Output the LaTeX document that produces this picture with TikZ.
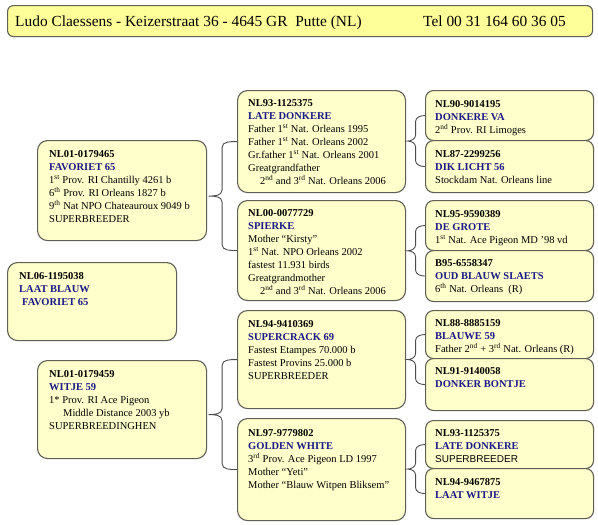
\documentclass[tikz,border=0pt]{standalone}
\usepackage{fontspec}
\setmainfont{Liberation Serif}
\newfontfamily\arialfont{Liberation Sans}
\usetikzlibrary{calc}
\definecolor{boxfill}{RGB}{255,255,204}
\definecolor{headfill}{RGB}{255,255,153}
\definecolor{boxline}{RGB}{95,95,85}
\definecolor{namecol}{RGB}{25,25,135}
\newcommand\pidx[1]{\textbf{#1}}
\newcommand\pnam[1]{\textcolor{namecol}{\textbf{#1}}}
\newcommand\famlink[3]{%
  \draw[bracket] let \p1=(#1.east), \p2=(#2.west), \p3=(#3.west),
    \n1={0.5*(\x1+\x2)}, \n2={0.5*(\y2+\y3)} in
    (\p2) to[out=180,in=90] (\n1,\y2-6pt) -- (\n1,\n2+6pt)
    to[out=-90,in=0] (\x1+1.5pt,\n2) to[out=0,in=90] (\n1,\n2-6pt)
    -- (\n1,\y3+6pt) to[out=-90,in=180] (\p3);}
\tikzset{
  card/.style={draw=boxline, line width=1.1pt, fill=boxfill, rounded corners=10pt,
    inner sep=0pt, anchor=north west},
  smallcard/.style={card, rounded corners=8pt},
  headbox/.style={card, fill=headfill, rounded corners=6pt},
  txt/.style={anchor=north west, inner sep=0pt, align=left,
    font=\fontsize{10.5}{13}\selectfont},
  headtxt/.style={anchor=base west, inner sep=0pt, font=\fontsize{15.4}{18}\selectfont},
  bracket/.style={draw=black!70, line width=0.9pt},
}
\begin{document}
\begin{tikzpicture}[x=1pt,y=-1pt]
\useasboundingbox[fill=white] (0,0) rectangle (598,525);
% header
\node[headbox, minimum width=585pt, minimum height=31pt] (head) at (7,5) {};
\node[headtxt] (hdrA) at (15,26) {Ludo Claessens - Keizerstraat 36 - 4645 GR\ \ Putte (NL)};
\node[headtxt] (hdrB) at (423,26) {Tel 00 31 164 60 36 05};
% left column
\node[card, minimum width=169pt, minimum height=100pt] (fav) at (37,140) {};
\node[card, minimum width=169pt, minimum height=78pt] (laat) at (7,262) {};
\node[card, minimum width=169pt, minimum height=98pt] (witje) at (37,360) {};
% middle column
\node[card, minimum width=168pt, minimum height=102pt] (md1) at (237,90) {};
\node[card, minimum width=168pt, minimum height=100pt] (md2) at (237,200) {};
\node[card, minimum width=168pt, minimum height=98pt] (md3) at (237,310) {};
\node[card, minimum width=168pt, minimum height=102pt] (md4) at (237,418) {};
% right column
\node[smallcard, minimum width=168pt, minimum height=50pt] (r1) at (425,90) {};
\node[smallcard, minimum width=168pt, minimum height=52pt] (r2) at (425,140) {};
\node[smallcard, minimum width=168pt, minimum height=50pt] (r3) at (425,200) {};
\node[smallcard, minimum width=168pt, minimum height=51pt] (r4) at (425,250) {};
\node[smallcard, minimum width=168pt, minimum height=48pt] (r5) at (425,310) {};
\node[smallcard, minimum width=168pt, minimum height=52pt] (r6) at (425,358) {};
\node[smallcard, minimum width=168pt, minimum height=48pt] (r7) at (425,420) {};
\node[smallcard, minimum width=168pt, minimum height=50pt] (r8) at (425,468) {};
% texts
\node[txt] (favT) at (49,150) {\pidx{NL01-0179465}\\ \pnam{FAVORIET 65}\\
  1\textsuperscript{st} Prov. RI Chantilly 4261 b\\
  6\textsuperscript{th} Prov. RI Orleans 1827 b\\
  9\textsuperscript{th} Nat NPO Chateauroux 9049 b\\ SUPERBREEDER};
\node[txt] (laatT) at (19,272) {\pidx{NL06-1195038}\\ \pnam{LAAT BLAUW}\\ \hspace*{3pt}\pnam{FAVORIET 65}};
\node[txt] (witjeT) at (49,370) {\pidx{NL01-0179459}\\ \pnam{WITJE 59}\\
  1* Prov. RI Ace Pigeon\\ \hspace*{14pt}Middle Distance 2003 yb\\ SUPERBREEDINGHEN};
\node[txt] (md1T) at (248,99) {\pidx{NL93-1125375}\\ \pnam{LATE DONKERE}\\
  Father 1\textsuperscript{st} Nat. Orleans 1995\\
  Father 1\textsuperscript{st} Nat. Orleans 2002\\
  Gr.father 1\textsuperscript{st} Nat. Orleans 2001\\
  Greatgrandfather\\
  \hspace*{12pt}2\textsuperscript{nd} and 3\textsuperscript{rd} Nat. Orleans 2006};
\node[txt] (md2T) at (248,209) {\pidx{NL00-0077729}\\ \pnam{SPIERKE}\\
  Mother “Kirsty”\\
  1\textsuperscript{st} Nat. NPO Orleans 2002\\
  fastest 11.931 birds\\
  Greatgrandmother\\
  \hspace*{12pt}2\textsuperscript{nd} and 3\textsuperscript{rd} Nat. Orleans 2006};
\node[txt] (md3T) at (248,320) {\pidx{NL94-9410369}\\ \pnam{SUPERCRACK 69}\\
  Fastest Etampes 70.000 b\\ Fastest Provins 25.000 b\\ SUPERBREEDER};
\node[txt] (md4T) at (248,429) {\pidx{NL97-9779802}\\ \pnam{GOLDEN WHITE}\\
  3\textsuperscript{rd} Prov. Ace Pigeon LD 1997\\ Mother “Yeti”\\ Mother “Blauw Witpen Bliksem”};
\node[txt] (r1T) at (435,100) {\pidx{NL90-9014195}\\ \pnam{DONKERE VA}\\ 2\textsuperscript{nd} Prov. RI Limoges};
\node[txt] (r2T) at (435,150) {\pidx{NL87-2299256}\\ \pnam{DIK LICHT 56}\\ Stockdam Nat. Orleans line};
\node[txt] (r3T) at (435,210) {\pidx{NL95-9590389}\\ \pnam{DE GROTE}\\ 1\textsuperscript{st} Nat. Ace Pigeon MD ’98 vd};
\node[txt] (r4T) at (435,259) {\pidx{B95-6558347}\\ \pnam{OUD BLAUW SLAETS}\\ 6\textsuperscript{th} Nat. Orleans\ \ (R)};
\node[txt] (r5T) at (435,319) {\pidx{NL88-8885159}\\ \pnam{BLAUWE 59}\\ Father 2\textsuperscript{nd} + 3\textsuperscript{rd} Nat. Orleans (R)};
\node[txt] (r6T) at (435,367) {\pidx{NL91-9140058}\\ \pnam{DONKER BONTJE}};
\node[txt] (r7T) at (435,429) {\pidx{NL93-1125375}\\ \pnam{LATE DONKERE}\\ {\arialfont\fontsize{10}{13}\selectfont SUPERBREEDER}};
\node[txt] (r8T) at (435,478) {\pidx{NL94-9467875}\\ \pnam{LAAT WITJE}};
% brackets
\famlink{fav}{md1}{md2}
\famlink{witje}{md3}{md4}
\famlink{md1}{r1}{r2}
\famlink{md2}{r3}{r4}
\famlink{md3}{r5}{r6}
\famlink{md4}{r7}{r8}
\end{tikzpicture}
\end{document}
